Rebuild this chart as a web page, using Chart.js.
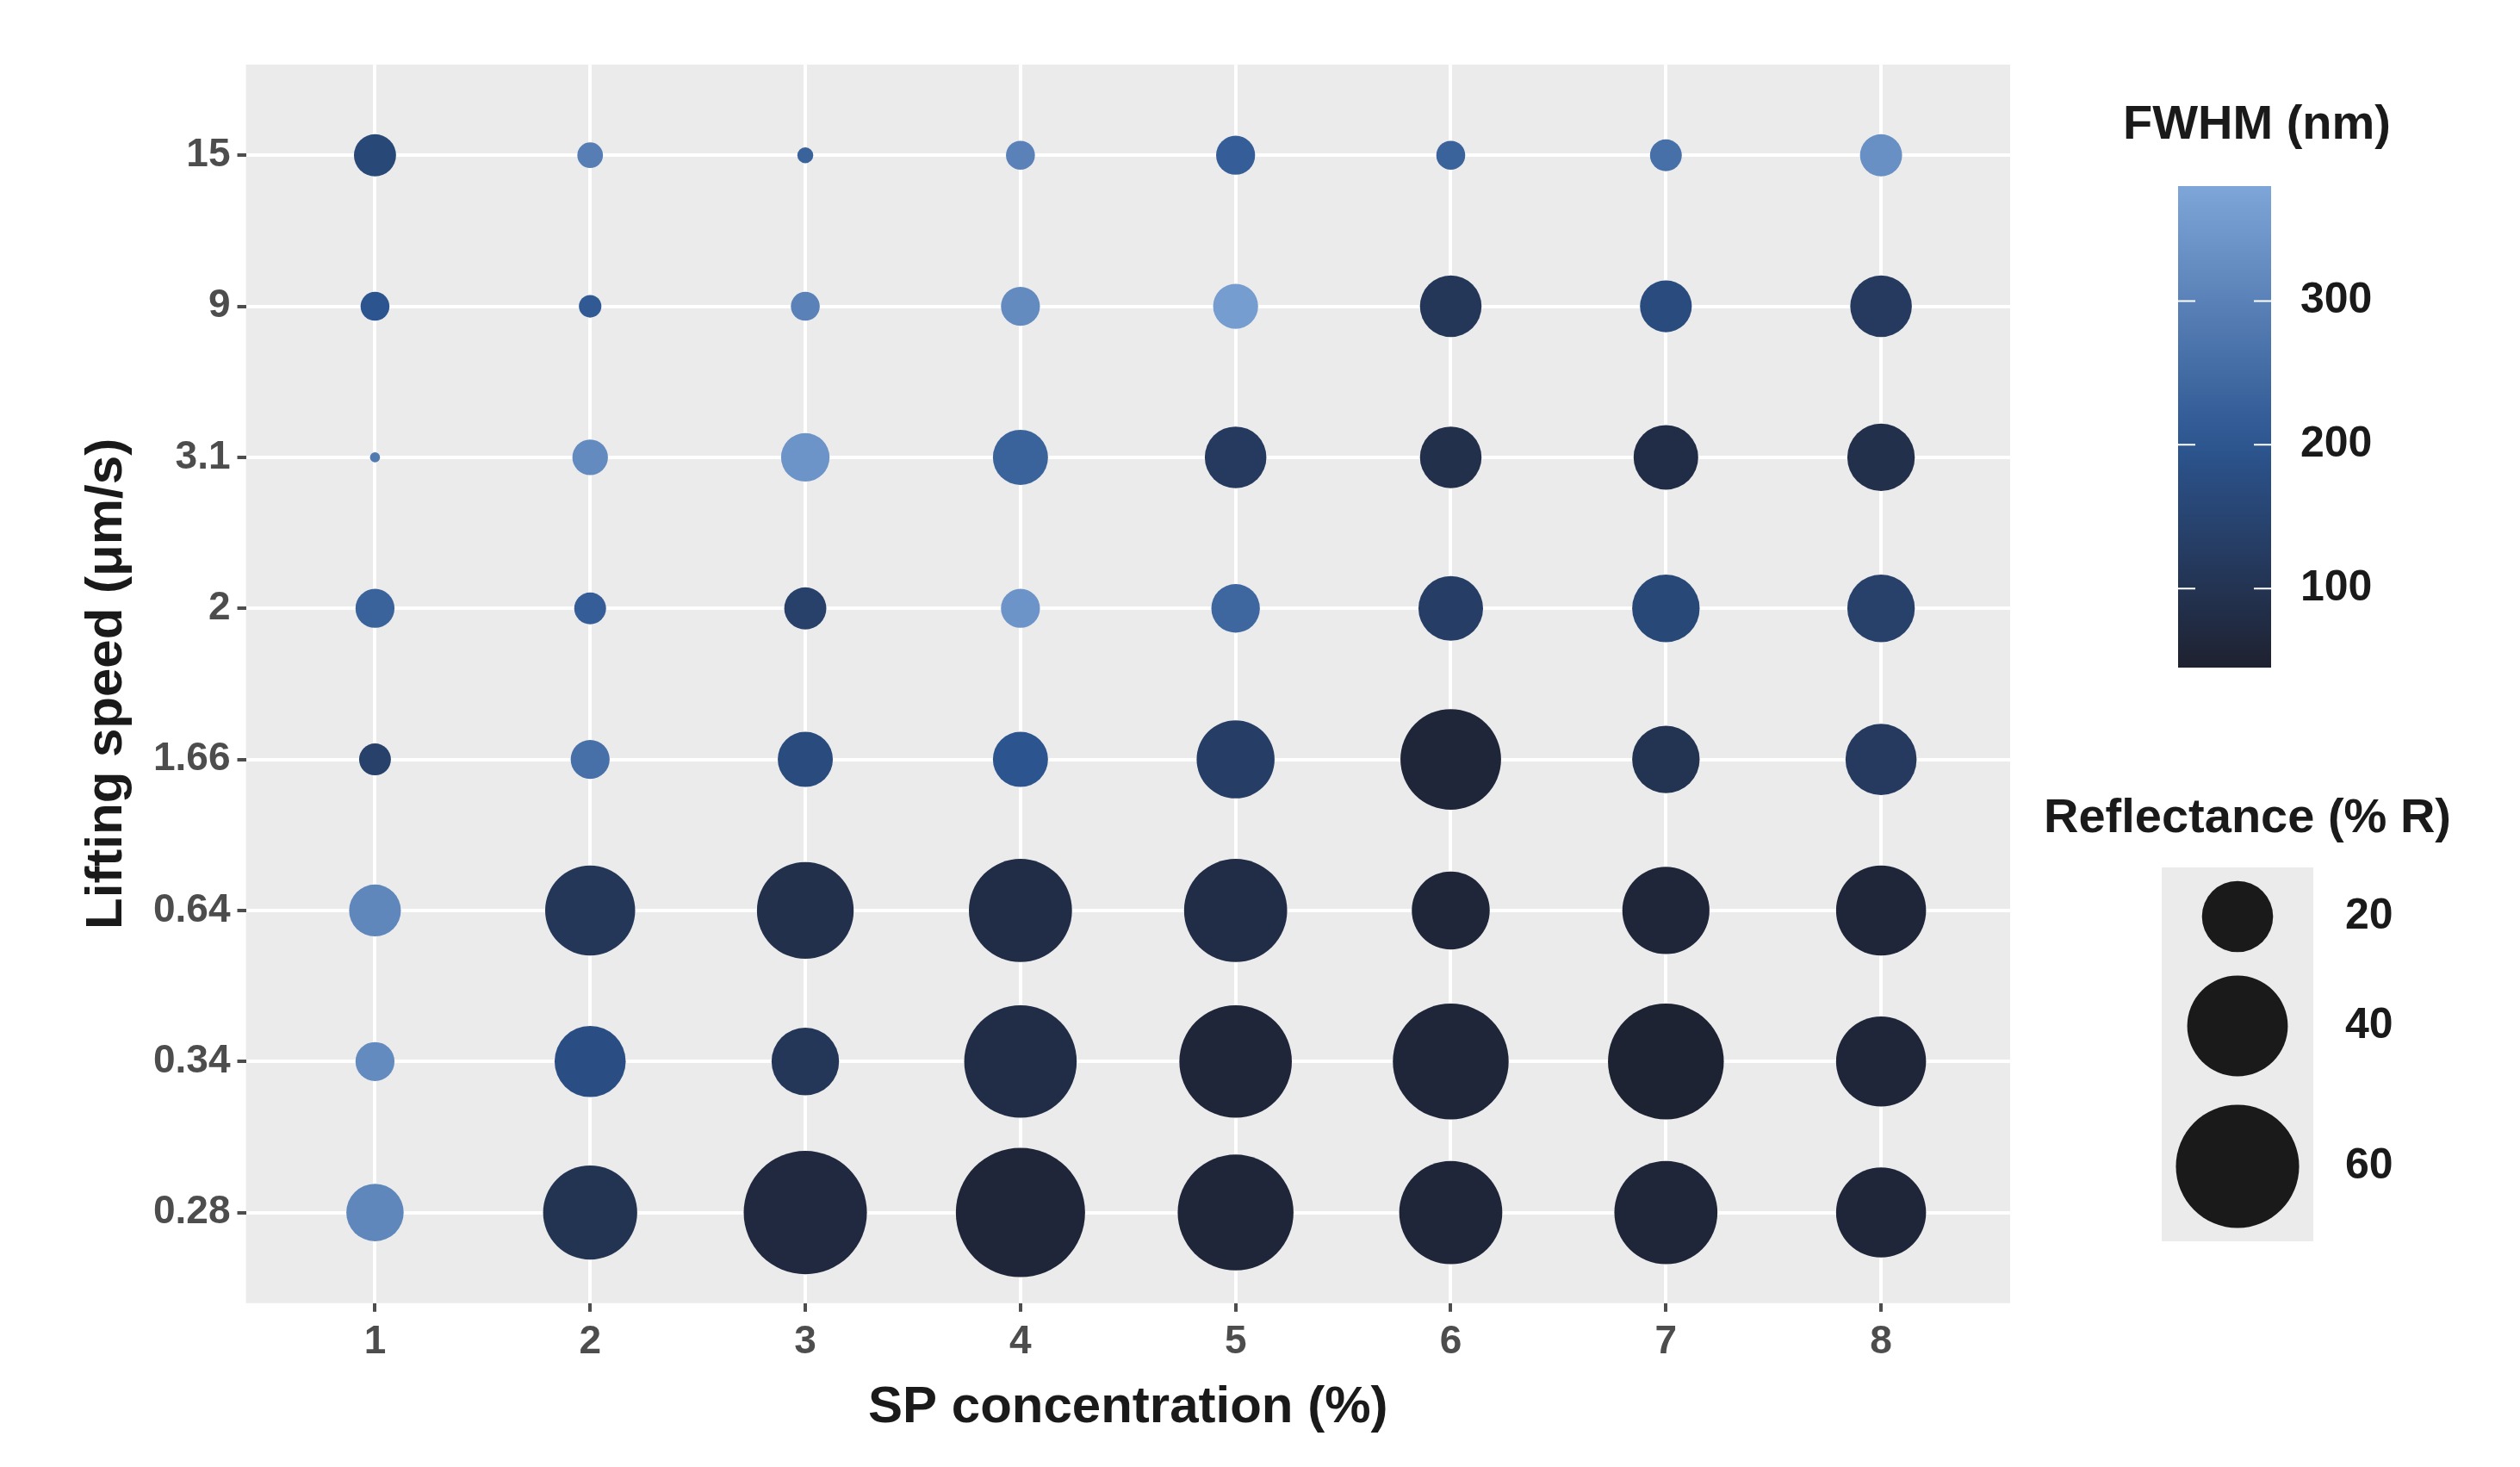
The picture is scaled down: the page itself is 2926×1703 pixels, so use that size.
<!DOCTYPE html>
<html>
<head>
<meta charset="utf-8">
<script src="https://cdn.jsdelivr.net/npm/chart.js@4"></script>
<style>
  html, body { margin: 0; padding: 0; background: #fff; }
  #wrap { width: 2926px; height: 1703px; }
</style>
</head>
<body>
<div id="wrap"><canvas id="chart" width="2926" height="1703"></canvas></div>
<script>
// categories
const concentrations = [1, 2, 3, 4, 5, 6, 7, 8];
const speeds = ["0.28", "0.34", "0.64", "1.66", "2", "3.1", "9", "15"];

// reflectance (% R), one row per lifting speed (bottom to top)
const reflectance = [
  [13, 35, 60, 66, 53, 42, 42, 32],   // 0.28
  [6, 20, 18, 50, 50, 53, 53, 32],    // 0.34
  [10.6, 32, 37, 42, 42, 24, 30, 32], // 0.64
  [4, 6, 12, 12, 24, 40, 18, 20],     // 1.66
  [6, 4, 7, 6, 9.3, 16.5, 18, 18],    // 2
  [0.4, 5, 9.3, 12, 15, 15, 16.5, 18],// 3.1
  [3.3, 2, 3.3, 6, 8, 15, 10.6, 15],  // 9
  [7, 2.6, 1, 3.3, 6, 3.3, 4, 7]      // 15
];

// FWHM (nm)
const fwhm = [
  [310, 100, 70, 60, 60, 60, 60, 60],
  [320, 180, 110, 80, 60, 60, 50, 60],
  [310, 110, 90, 80, 80, 60, 60, 60],
  [140, 260, 170, 200, 130, 60, 100, 120],
  [230, 220, 140, 340, 240, 130, 160, 140],
  [280, 320, 340, 230, 120, 90, 80, 90],
  [200, 210, 300, 320, 360, 110, 170, 120],
  [160, 290, 230, 300, 220, 230, 260, 330]
];

const fwhmTicks = [100, 200, 300];
const sizeTicks = [20, 40, 60];
const fwhmMin = 45, fwhmMax = 380;

const FONT = "'Liberation Sans', Arial, sans-serif";

// colour scale
const colorStops = [[45, [30, 33, 48]], [200, [44, 85, 144]], [380, [127, 166, 216]]];
function fwhmColor(v) {
  v = Math.max(fwhmMin, Math.min(fwhmMax, v));
  for (let i = 0; i < colorStops.length - 1; i++) {
    const [a, ca] = colorStops[i], [b, cb] = colorStops[i + 1];
    if (v <= b) {
      const t = (v - a) / (b - a);
      const c = ca.map((x, k) => Math.round(x + (cb[k] - x) * t));
      return `rgb(${c[0]},${c[1]},${c[2]})`;
    }
  }
  return "rgb(127,166,216)";
}

// size scale: area proportional to value
function sizeRadius(v) { return 41.3 * Math.sqrt(v / 20); }

const points = [];
speeds.forEach((s, yi) => {
  concentrations.forEach((c, xi) => {
    points.push({ x: c, y: yi + 1, r: sizeRadius(reflectance[yi][xi]), col: fwhmColor(fwhm[yi][xi]) });
  });
});

// panel background + legends on the right
const legendPlugin = {
  id: "legends",
  beforeDraw(chart) {
    const { ctx, chartArea } = chart;
    ctx.save();
    ctx.fillStyle = "#ebebeb";
    ctx.fillRect(chartArea.left, chartArea.top, chartArea.right - chartArea.left, chartArea.bottom - chartArea.top);
    ctx.restore();
  },
  afterDraw(chart) {
    const ctx = chart.ctx;
    ctx.save();
    // FWHM colourbar
    ctx.fillStyle = "#1a1a1a";
    ctx.font = `bold 56px ${FONT}`;
    ctx.textAlign = "left";
    ctx.textBaseline = "middle";
    ctx.fillText("FWHM (nm)", 2465, 146);
    const bx = 2529, bw = 108, top = 216, bot = 775;
    const grad = ctx.createLinearGradient(0, bot, 0, top);
    for (let i = 0; i <= 20; i++) {
      const v = fwhmMin + (fwhmMax - fwhmMin) * i / 20;
      grad.addColorStop(i / 20, fwhmColor(v));
    }
    ctx.fillStyle = grad;
    ctx.fillRect(bx, top, bw, bot - top);
    ctx.font = `bold 50px ${FONT}`;
    fwhmTicks.forEach(t => {
      const y = bot - (t - fwhmMin) / (fwhmMax - fwhmMin) * (bot - top);
      ctx.strokeStyle = "#ffffff";
      ctx.lineWidth = 2;
      ctx.beginPath(); ctx.moveTo(bx, y); ctx.lineTo(bx + 20, y);
      ctx.moveTo(bx + bw - 20, y); ctx.lineTo(bx + bw, y); ctx.stroke();
      ctx.fillStyle = "#1a1a1a";
      ctx.fillText(String(t), bx + bw + 34, y);
    });
    // Reflectance size legend
    ctx.font = `bold 56px ${FONT}`;
    ctx.fillText("Reflectance (% R)", 2373, 951);
    ctx.fillStyle = "#ebebeb";
    ctx.fillRect(2510, 1007, 176, 434);
    const ys = [1064, 1191, 1354];
    ctx.font = `bold 50px ${FONT}`;
    sizeTicks.forEach((v, i) => {
      ctx.fillStyle = "#1a1a1a";
      ctx.beginPath(); ctx.arc(2598, ys[i], sizeRadius(v), 0, Math.PI * 2); ctx.fill();
      ctx.fillText(String(v), 2723, ys[i]);
    });
    ctx.restore();
  }
};

new Chart(document.getElementById("chart"), {
  type: "bubble",
  data: {
    datasets: [{
      data: points,
      backgroundColor: points.map(p => p.col),
      borderWidth: 0
    }]
  },
  options: {
    responsive: false,
    animation: false,
    plugins: { legend: { display: false }, tooltip: { enabled: false } },
    layout: { padding: { top: 7, right: 592, left: 84, bottom: 29 } },
    scales: {
      x: {
        type: "linear", min: 0.4, max: 8.6,
        afterBuildTicks: s => { s.ticks = concentrations.map(v => ({ value: v })); },
        ticks: { color: "#4d4d4d", font: { family: FONT, size: 46, weight: "bold" }, padding: 8 },
        grid: { color: "#ffffff", lineWidth: 4, drawTicks: true, tickColor: "#4d4d4d", tickLength: 10 },
        border: { display: false },
        title: { display: true, text: "SP concentration (%)", color: "#1a1a1a", font: { family: FONT, size: 60, weight: "bold" }, padding: { top: 4 } }
      },
      y: {
        type: "linear", min: 0.4, max: 8.6,
        afterBuildTicks: s => { s.ticks = speeds.map((_, i) => ({ value: i + 1 })); },
        ticks: { color: "#4d4d4d", font: { family: FONT, size: 46, weight: "bold" }, padding: 8,
          callback: v => speeds[Math.round(v) - 1] },
        grid: { color: "#ffffff", lineWidth: 4, drawTicks: true, tickColor: "#4d4d4d", tickLength: 10 },
        border: { display: false },
        title: { display: true, text: "Lifting speed (μm/s)", color: "#1a1a1a", font: { family: FONT, size: 60, weight: "bold" }, padding: { bottom: 10 } }
      }
    }
  },
  plugins: [legendPlugin]
});
</script>
</body>
</html>
